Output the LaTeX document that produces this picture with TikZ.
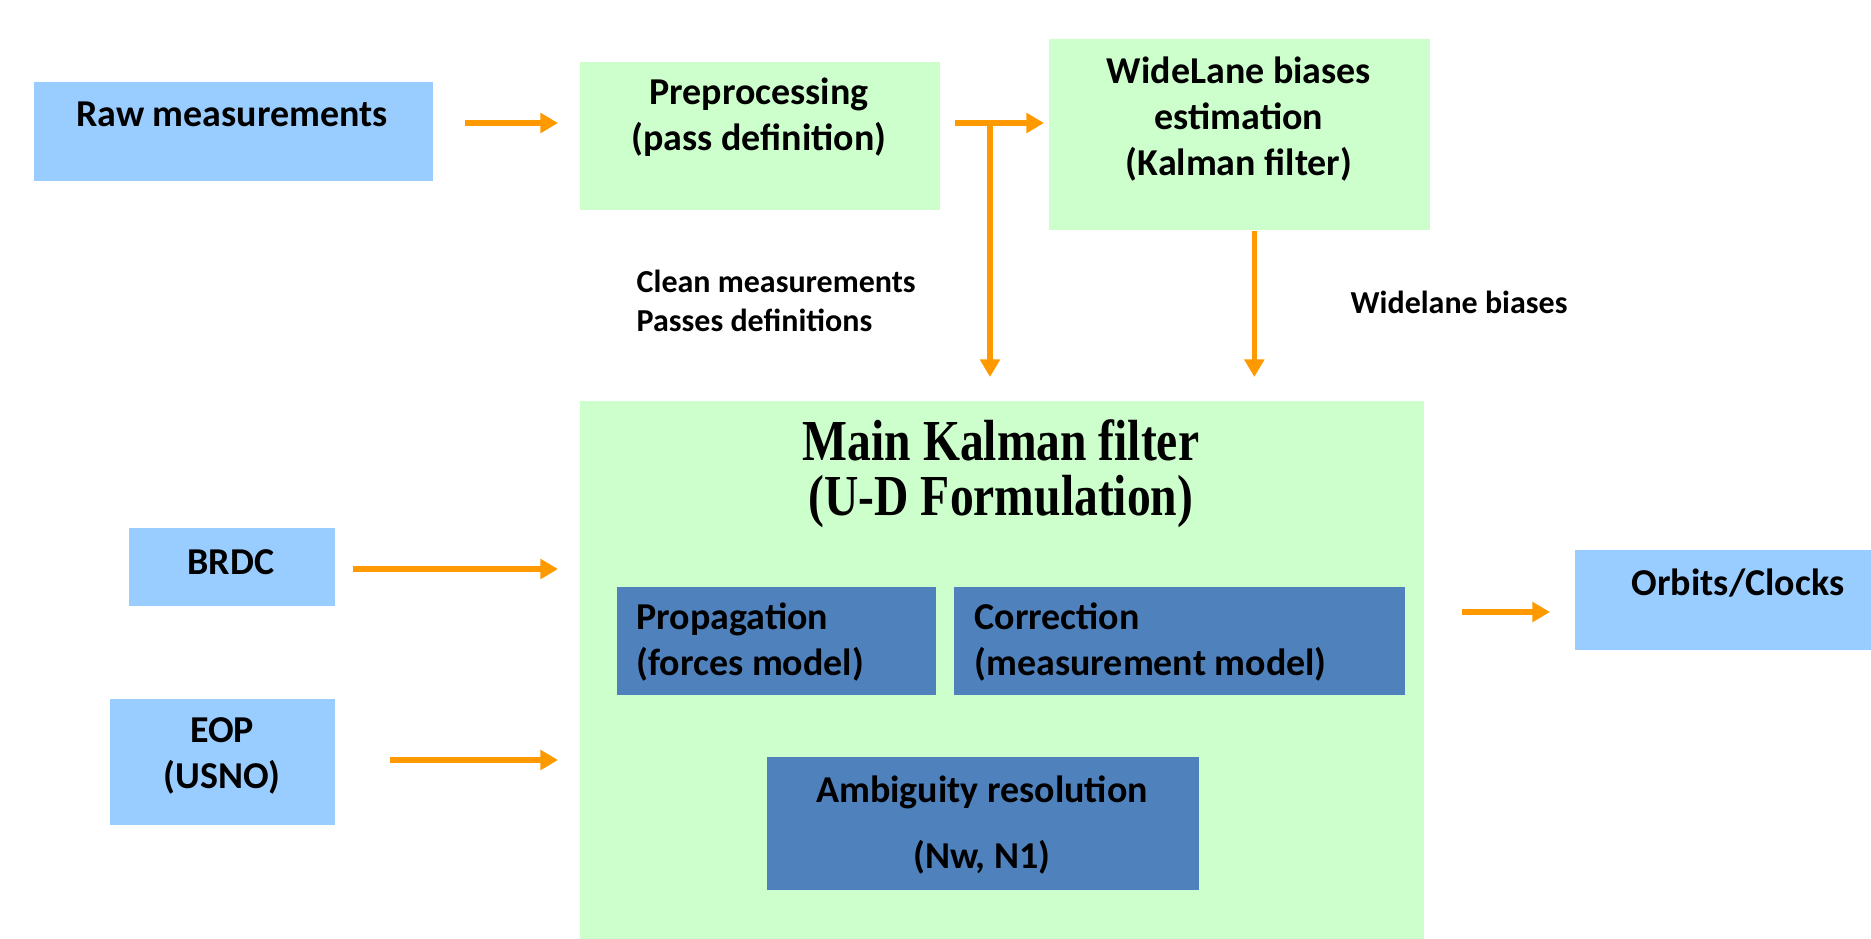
\documentclass[tikz,border=0pt]{standalone}
\usepackage{fontspec}
\setmainfont{Carlito}
\newfontfamily\titlefont[FakeStretch=0.82]{Liberation Serif}
\usetikzlibrary{arrows.meta}

\definecolor{inputblue}{HTML}{99CCFF}
\definecolor{stepgreen}{HTML}{CCFFCC}
\definecolor{innerblue}{HTML}{4F81BD}
\definecolor{flow}{HTML}{FF9900}

\tikzset{
  blockbox/.style={anchor=north west, inner sep=0pt},
  inbox/.style={blockbox, fill=inputblue},
  stepbox/.style={blockbox, fill=stepgreen},
  subbox/.style={blockbox, fill=innerblue},
  txt/.style={font=\fontsize{10.8}{13.1}\selectfont\bfseries, align=center, inner sep=0pt},
  ltxt/.style={txt, align=left, anchor=west},
  arrowtxt/.style={ltxt, font=\fontsize{9.1}{10.9}\selectfont\bfseries},
  flowarrow/.style={draw=flow, line width=1.5pt, -{Triangle[length=5pt,width=5.5pt]}}
}

\begin{document}
\begin{tikzpicture}[x=0.01cm, y=-0.01cm]
\useasboundingbox (0,0) rectangle (1871,939);
% boxes
\node[inbox, minimum width=3.99cm, minimum height=0.99cm] (raw) at (33,81) {};
\node[stepbox, minimum width=3.60cm, minimum height=1.48cm] (pre) at (579,61) {};
\node[stepbox, minimum width=3.81cm, minimum height=1.91cm] (wl) at (1048,38) {};
\node[stepbox, minimum width=8.44cm, minimum height=5.39cm] (kal) at (579,400) {};
\node[subbox, minimum width=3.19cm, minimum height=1.08cm] (prop) at (616,586) {};
\node[subbox, minimum width=4.51cm, minimum height=1.08cm] (corr) at (953,586) {};
\node[subbox, minimum width=4.32cm, minimum height=1.33cm] (amb) at (766,756) {};
\node[inbox, minimum width=2.06cm, minimum height=0.78cm] (brdc) at (128,527) {};
\node[inbox, minimum width=2.25cm, minimum height=1.26cm] (eop) at (109,698) {};
\node[inbox, minimum width=2.97cm, minimum height=1.00cm] (orb) at (1574,549) {};
% texts
\node[txt] (rawtxt) at (232,114) {Raw measurements};
\node[txt] (pretxt) at (759,117) {Preprocessing\\(pass definition)};
\node[txt] (wltxt) at (1239,119) {WideLane biases\\estimation\\(Kalman filter)};
\node[font=\titlefont\fontsize{16.5}{15.6}\selectfont\bfseries, align=center, inner sep=0pt] (kaltxt) at (1001,474) {Main Kalman filter\\(U-D Formulation)};
\node[ltxt] (proptxt) at (636,642) {Propagation\\(forces model)};
\node[ltxt] (corrtxt) at (974,642) {Correction\\(measurement model)};
\node[txt, font=\fontsize{10.8}{19}\selectfont\bfseries] (ambtxt) at (982,825) {Ambiguity resolution\\(Nw, N1)};
\node[txt] (brdctxt) at (231,562) {BRDC};
\node[txt] (eoptxt) at (222,756) {EOP\\(USNO)};
\node[txt] (orbtxt) at (1738,583) {Orbits/Clocks};
\node[arrowtxt] (cleantxt) at (636,301) {Clean measurements\\Passes definitions};
\node[arrowtxt] (widetxt) at (1350,302) {Widelane biases};
% arrows
\coordinate (rawout) at (465,123);
\coordinate (preout) at (955,123);
\coordinate (split) at (990,123);
\coordinate (brdcout) at (353,569);
\coordinate (eopout) at (390,760);
\coordinate (kalout) at (1462,612);
\draw[flowarrow, shorten >=0.21cm] (rawout) -- (rawout -| pre.west);
\draw[flowarrow, shorten >=0.04cm] (preout) -- (preout -| wl.west);
\draw[flowarrow, shorten >=0.23cm] (split) -- (split |- kal.north);
\draw[flowarrow, shorten >=0.23cm] ([xshift=0.15cm]wl.south) -- ([xshift=0.15cm]wl.south |- kal.north);
\draw[flowarrow, shorten >=0.21cm] (brdcout) -- (brdcout -| kal.west);
\draw[flowarrow, shorten >=0.21cm] (eopout) -- (eopout -| kal.west);
\draw[flowarrow, shorten >=0.24cm] (kalout) -- (kalout -| orb.west);
\end{tikzpicture}
\end{document}
